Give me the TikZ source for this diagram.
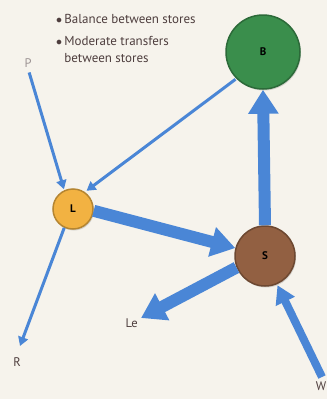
\documentclass[tikz,border=0pt]{standalone}
\usepackage{fontspec}
\setmainfont{PT Sans}
\usetikzlibrary{arrows.meta,shadows}
\definecolor{paper}{RGB}{246,243,236}
\definecolor{flowblue}{RGB}{74,134,214}
\definecolor{storegreen}{RGB}{58,142,76}
\definecolor{storeorange}{RGB}{242,178,66}
\definecolor{storebrown}{RGB}{146,96,66}
\definecolor{inktext}{RGB}{78,62,62}

\begin{document}
\begin{tikzpicture}[x=1pt,y=-1pt,
  store/.style={circle,fill=#1,draw=#1!75!black,line width=1.5pt,inner sep=0pt,
    drop shadow={opacity=0.3,shadow xshift=1pt,shadow yshift=-1.5pt},
    font=\bfseries\fontsize{11}{13}\selectfont},
  flowlabel/.style={text=inktext,font=\fontsize{12.5}{14}\selectfont,inner sep=1pt},
  thinflow/.style={draw=flowblue,line width=3pt,-{Triangle[width=10pt,length=9pt]}},
  midflow/.style={draw=flowblue,line width=8pt,-{Triangle[width=20pt,length=18pt]}},
  bigflow/.style={draw=flowblue,line width=12pt,-{Triangle[width=29pt,length=24pt]}}]
\useasboundingbox[fill=paper] (0,0) rectangle (327,399);

% stores
\node [store=storegreen, minimum size=74pt] (B) at (263,52) {B};
\node [store=storeorange, minimum size=40pt] (L) at (73,209) {L};
\node [store=storebrown, minimum size=60pt] (S) at (265,256) {S};

% notes
\node [flowlabel, anchor=west, align=left, font=\fontsize{13}{20}\selectfont] (notes) at (55,38)
  {$\bullet$\,Balance between stores\\[2pt]
   $\bullet$\,Moderate transfers\\[-3pt]
   \hphantom{$\bullet$\,}between stores};

% inputs and outputs
\node [flowlabel, text=inktext!55] (P) at (28,63) {P};
\node [flowlabel] (R) at (17,362) {R};
\node [flowlabel, anchor=east] (Le) at (139,323) {Le};
\node [flowlabel] (W) at (321,386) {W};
\coordinate (Rtip) at (20,346);
\coordinate (Letip) at (141,318);
\coordinate (Wtail) at (322,377);

% flows
\draw [thinflow, shorten <=4pt, shorten >=1pt] (P.south) -- (L.115);
\draw [thinflow, shorten <=1pt, shorten >=2pt] (B.225) -- (L.55);
\draw [thinflow] (L.245) -- (Rtip);
\draw [bigflow] (L.355) -- (S.165);
\draw [bigflow] (S.north) -- (B.south);
\draw [bigflow] (S.202) -- (Letip);
\draw [midflow, shorten >=1pt] (Wtail) -- (S.293);

\end{tikzpicture}
\end{document}
